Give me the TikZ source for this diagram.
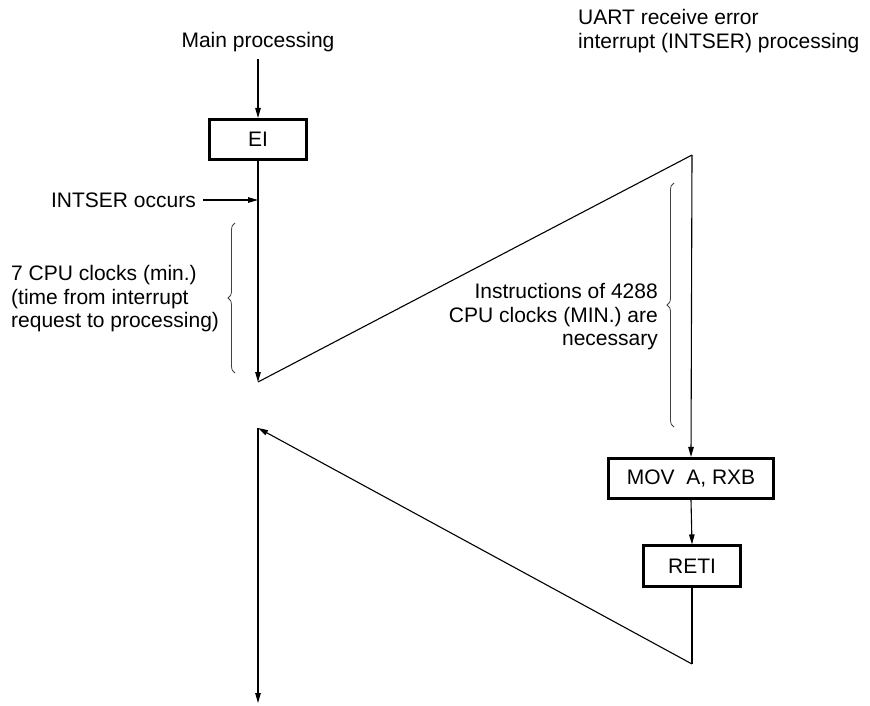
\documentclass[tikz,border=0pt]{standalone}
\usepackage{fontspec}
\setmainfont{Liberation Sans}
\usetikzlibrary{arrows.meta,decorations.pathreplacing}
\begin{document}
\begin{tikzpicture}[x=1pt,y=-1pt,
  font=\fontsize{21}{23.5}\selectfont,
  ln/.style={line width=1.1pt},
  arr/.style={ln,-{Triangle[length=10pt,width=5.5pt]}},
  box/.style={draw,line width=2.6pt,inner sep=0pt,minimum height=40.5pt},
  txt/.style={inner sep=0pt},
  brc/.style={draw=black!75,line width=0.8pt,decorate,decoration={brace,amplitude=7pt}}]
\useasboundingbox (0,0) rectangle (870,705);
% main flow
\node[txt] (main) at (258,42) {Main processing};
\coordinate (a1) at (258,59);
\node[box,minimum width=97.5pt] (ei) at (258,139.5) {EI};
\draw[arr] (a1) -- (ei.north);
\coordinate (p1) at (258,382);
\draw[arr] (ei.south) -- (p1);
\node[txt,anchor=east] (occ) at (196,200) {INTSER occurs};
\coordinate (o0) at (203,200);
\coordinate (o1) at (258,200);
\draw[arr] (o0) -- (o1);
\node[txt,align=left,anchor=west] (lt) at (11,299) {7 CPU clocks (min.)\\(time from interrupt\\request to processing)};
\coordinate (lb1) at (235,373);
\coordinate (lb2) at (235,223);
\draw[brc] (lb1) -- (lb2);
% interrupt routine
\node[txt,align=left,anchor=west] (ut) at (578,31) {UART receive error\\interrupt (INTSER) processing};
\coordinate (q1) at (692,155);
\draw[ln] (p1) -- (q1);
\node[box,minimum width=165.5pt] (mov) at (691,478.5) {MOV\ \ A, RXB};
\draw[arr] (q1) -- (mov.north);
\node[box,minimum width=97.5pt] (reti) at (692,566) {RETI};
\draw[arr] (mov.south) -- (reti.north);
\node[txt,align=right,anchor=east] (rt) at (658,317) {Instructions of 4288\\CPU clocks (MIN.) are\\necessary};
\coordinate (rb1) at (674,427);
\coordinate (rb2) at (674,183);
\draw[brc] (rb1) -- (rb2);
% return
\coordinate (r1) at (692,664);
\coordinate (s1) at (258,428);
\coordinate (e1) at (258,703);
\draw[ln] (reti.south) -- (r1);
\draw[arr] (r1) -- (s1);
\draw[arr] (s1) -- (e1);
\end{tikzpicture}
\end{document}
